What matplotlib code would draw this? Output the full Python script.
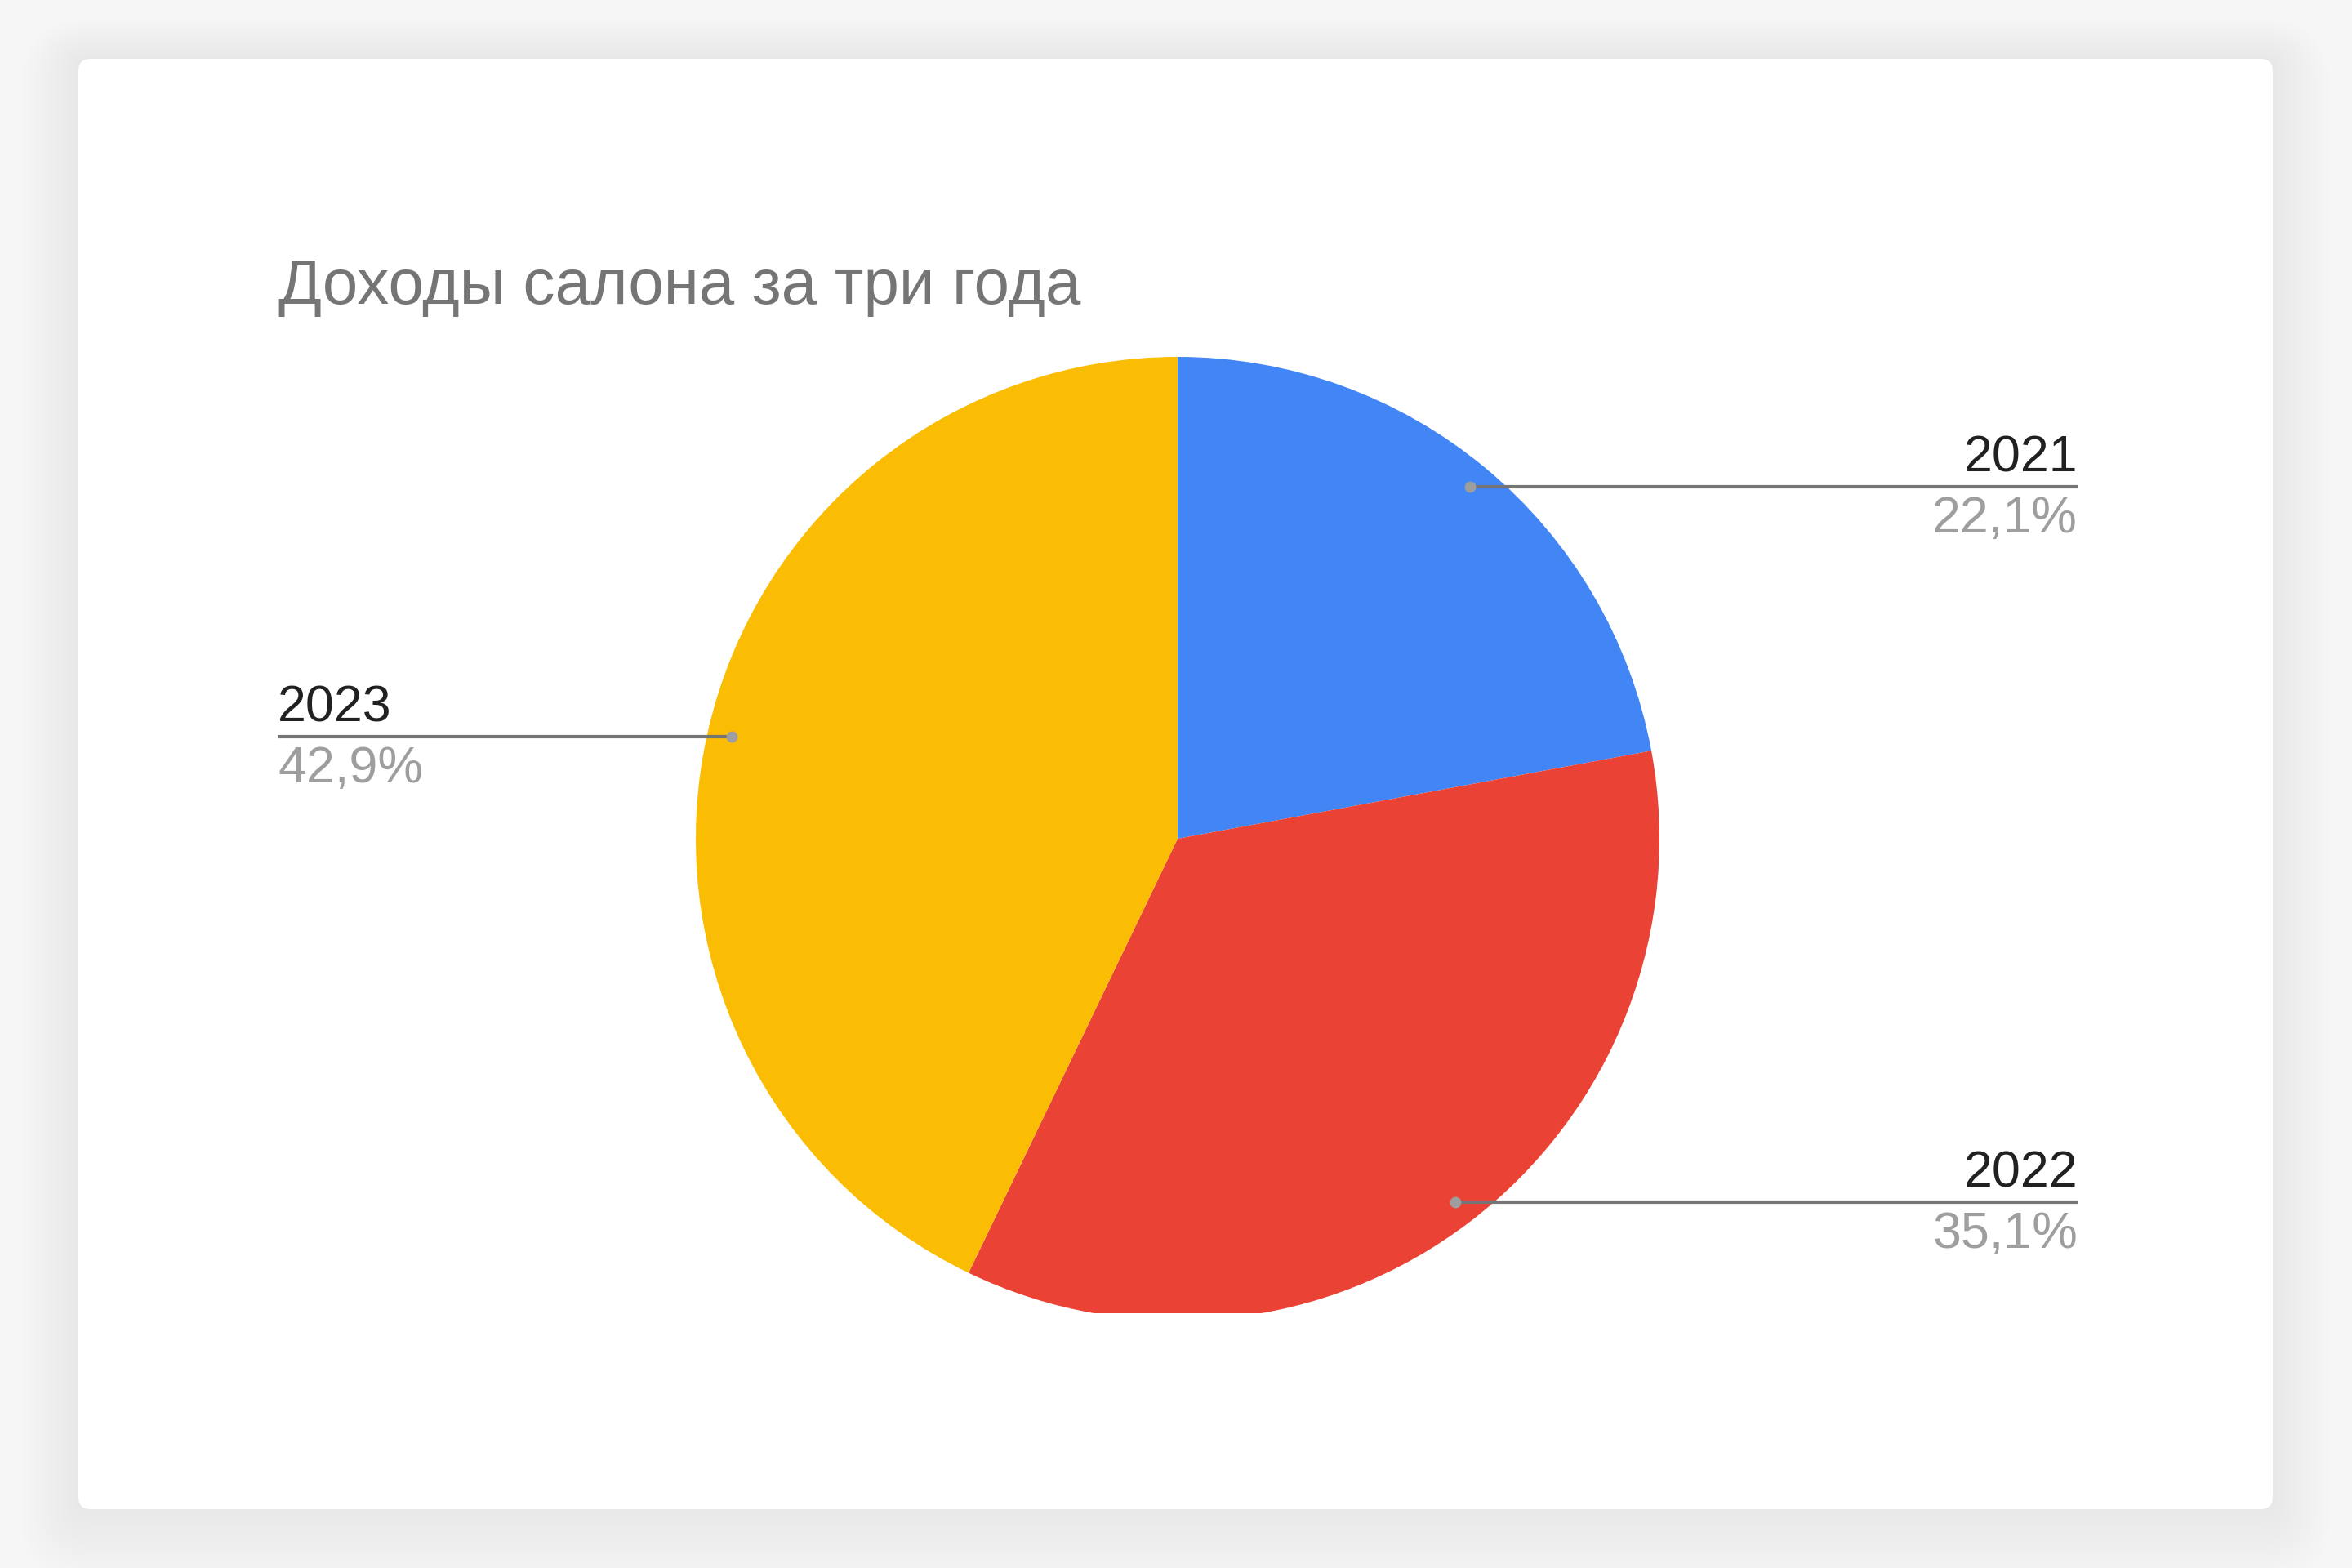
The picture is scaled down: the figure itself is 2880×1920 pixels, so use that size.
import numpy as np
import matplotlib
matplotlib.use('Agg')
import matplotlib.pyplot as plt
from matplotlib.patches import FancyBboxPatch

# данные
years = ['2021', '2022', '2023']
shares = [22.1, 35.1, 42.9]
pct_labels = ['22,1%', '35,1%', '42,9%']
colors = ['#4285F4', '#EA4335', '#FBBC04']
title = 'Доходы салона за три года'

plt.rcParams['font.family'] = ['Liberation Sans', 'DejaVu Sans']

W, H = 2880, 1920
fig = plt.figure(figsize=(14.4, 9.6), dpi=200)
fig.patch.set_facecolor('#f6f6f6')

# фон и карточка
bg = fig.add_axes([0, 0, 1, 1])
bg.set_xlim(0, W)
bg.set_ylim(H, 0)
bg.axis('off')

cx0, cy0, cw, ch = 96, 72, 2687, 1776
for k in range(14, 0, -1):
    pad = k * 5
    bg.add_patch(FancyBboxPatch((cx0 - pad, cy0 - pad * 0.7), cw + 2 * pad, ch + 2 * pad,
                                boxstyle='round,pad=0,rounding_size=%d' % (15 + pad),
                                fc='black', ec='none', alpha=0.0035))
bg.add_patch(FancyBboxPatch((cx0, cy0), cw, ch, boxstyle='round,pad=0,rounding_size=15',
                            fc='white', ec='none'))

bg.text(341, 372, title, fontsize=28.1, color='#757575', ha='left', va='baseline')

# круговая диаграмма (низ круга обрезан краем области)
cx, cy, R = 1442, 1027, 590
top, bottom = 425, 1608
ax = fig.add_axes([(cx - 600) / W, 1 - bottom / H, 1200 / W, (bottom - top) / H])
wedges, _ = ax.pie(shares, colors=colors, startangle=90, counterclock=False,
                   wedgeprops=dict(linewidth=0))
for w in wedges:
    w.set_clip_on(True)
    w.set_clip_path(ax.patch)
ax.set_aspect('auto')
ax.set_xlim(-600 / R, 600 / R)
ax.set_ylim(-(bottom - cy) / R, (cy - top) / R)

xr = (2544 - cx) / R
xl = (340 - cx) / R
for w, yr, pl in zip(wedges, years, pct_labels):
    mid = np.deg2rad((w.theta1 + w.theta2) / 2)
    px, py = 0.95 * np.cos(mid), 0.95 * np.sin(mid)
    xe = xr if px > 0 else xl
    ha = 'right' if px > 0 else 'left'
    ax.plot([px, xe], [py, py], color='#757575', lw=1.5, clip_on=False, solid_capstyle='butt')
    ax.plot(px, py, 'o', ms=5, color='#9e9e9e', mec='none', clip_on=False)
    ax.annotate(yr, (xe, py), xytext=(0, 6.8), textcoords='offset points', ha=ha,
                va='baseline', fontsize=22.6, color='#212121', annotation_clip=False)
    ax.annotate(pl, (xe, py), xytext=(0, -20.2), textcoords='offset points', ha=ha,
                va='baseline', fontsize=22.6, color='#9e9e9e', annotation_clip=False)

fig.savefig('out.png', dpi=200, facecolor=fig.get_facecolor())
